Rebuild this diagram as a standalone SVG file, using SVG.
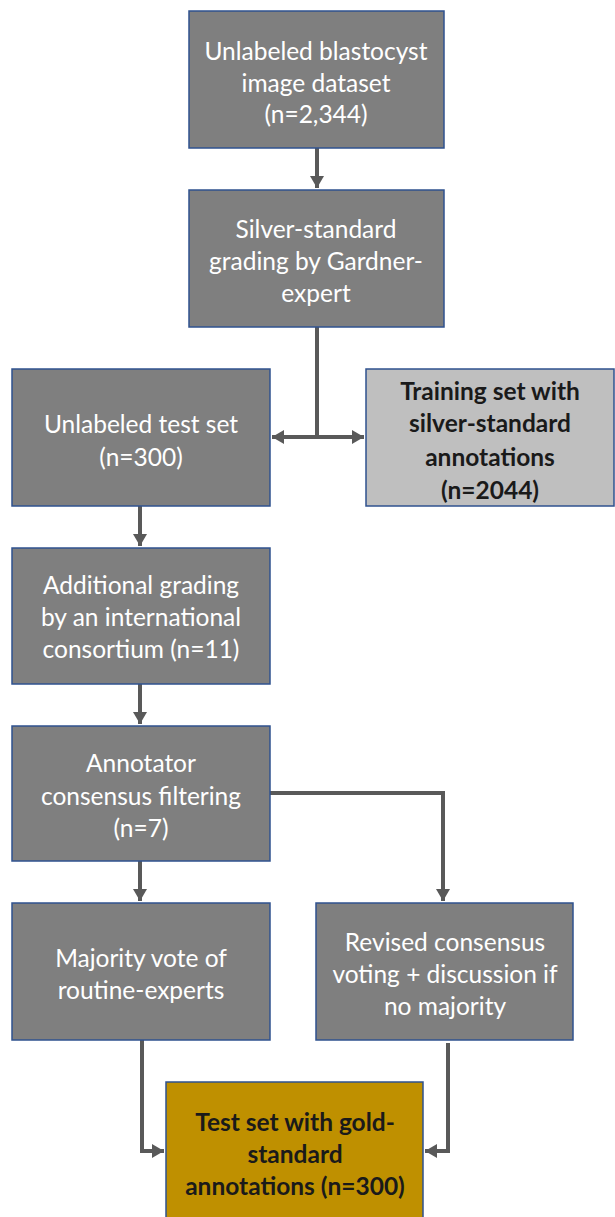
<svg xmlns="http://www.w3.org/2000/svg" width="615" height="1217" viewBox="0 0 615 1217">
<defs>
<marker id="ah" markerUnits="userSpaceOnUse" markerWidth="14" markerHeight="14" refX="12" refY="7" orient="auto-start-reverse">
<path d="M0,0 L12,7 L0,14 Z" fill="#595959"/>
</marker>
</defs>
<style>
.box{fill:#7f7f7f;stroke:#2f528f;stroke-width:1.5}
.light{fill:#bfbfbf;stroke:#2f528f;stroke-width:1.5}
.gold{fill:#bf9000;stroke:#2f528f;stroke-width:1.5}
.t{font-family:Lato,"Liberation Sans",sans-serif;font-size:24.5px;fill:#ffffff;text-anchor:middle;dominant-baseline:central}
.b{font-family:Lato,"Liberation Sans",sans-serif;font-size:24.5px;font-weight:bold;fill:#1a1a1a;text-anchor:middle;dominant-baseline:central}
.c{fill:none;stroke:#595959;stroke-width:4}
</style>
<g id="connectors">
<path class="c" d="M317,148 V188" marker-end="url(#ah)"/>
<path class="c" d="M317,327 V437"/>
<path class="c" d="M272,437 H364" marker-start="url(#ah)" marker-end="url(#ah)"/>
<path class="c" d="M140,506 V546" marker-end="url(#ah)"/>
<path class="c" d="M140,684 V724" marker-end="url(#ah)"/>
<path class="c" d="M140,861 V901" marker-end="url(#ah)"/>
<path class="c" d="M270,793 H443 V901" marker-end="url(#ah)"/>
<path class="c" d="M142,1040 V1151 H164" marker-end="url(#ah)"/>
<path class="c" d="M448,1043 V1151 H425" marker-end="url(#ah)"/>
</g>
<g id="n1"><rect class="box" x="189" y="11" width="255" height="137"/>
<text class="t" x="316" y="50">Unlabeled blastocyst</text><text class="t" x="316" y="82">image dataset</text><text class="t" x="316" y="113">(n=2,344)</text></g>
<g id="n2"><rect class="box" x="189" y="190" width="255" height="137"/>
<text class="t" x="316" y="228">Silver-standard</text><text class="t" x="316" y="260">grading by Gardner-</text><text class="t" x="316" y="292">expert</text></g>
<g id="n3"><rect class="box" x="12" y="369" width="258" height="137"/>
<text class="t" x="141" y="423">Unlabeled test set</text><text class="t" x="141" y="456">(n=300)</text></g>
<g id="n4"><rect class="light" x="366" y="369" width="248" height="137"/>
<text class="b" x="490" y="390">Training set with</text><text class="b" x="490" y="422">silver-standard</text><text class="b" x="490" y="456">annotations</text><text class="b" x="490" y="489">(n=2044)</text></g>
<g id="n5"><rect class="box" x="12" y="548" width="258" height="136"/>
<text class="t" x="141" y="584">Additional grading</text><text class="t" x="141" y="616">by an international</text><text class="t" x="141" y="648">consortium (n=11)</text></g>
<g id="n6"><rect class="box" x="12" y="726" width="258" height="135"/>
<text class="t" x="141" y="762">Annotator</text><text class="t" x="141" y="795">consensus filtering</text><text class="t" x="141" y="827">(n=7)</text></g>
<g id="n7"><rect class="box" x="12" y="903" width="258" height="137"/>
<text class="t" x="141" y="957">Majority vote of</text><text class="t" x="141" y="989">routine-experts</text></g>
<g id="n8"><rect class="box" x="316" y="903" width="257" height="137"/>
<text class="t" x="445" y="941">Revised consensus</text><text class="t" x="445" y="973">voting + discussion if</text><text class="t" x="445" y="1005">no majority</text></g>
<g id="n9"><rect class="gold" x="166" y="1082" width="257" height="140"/>
<text class="b" x="295" y="1121">Test set with gold-</text><text class="b" x="295" y="1153">standard</text><text class="b" x="295" y="1185">annotations (n=300)</text></g>
</svg>
